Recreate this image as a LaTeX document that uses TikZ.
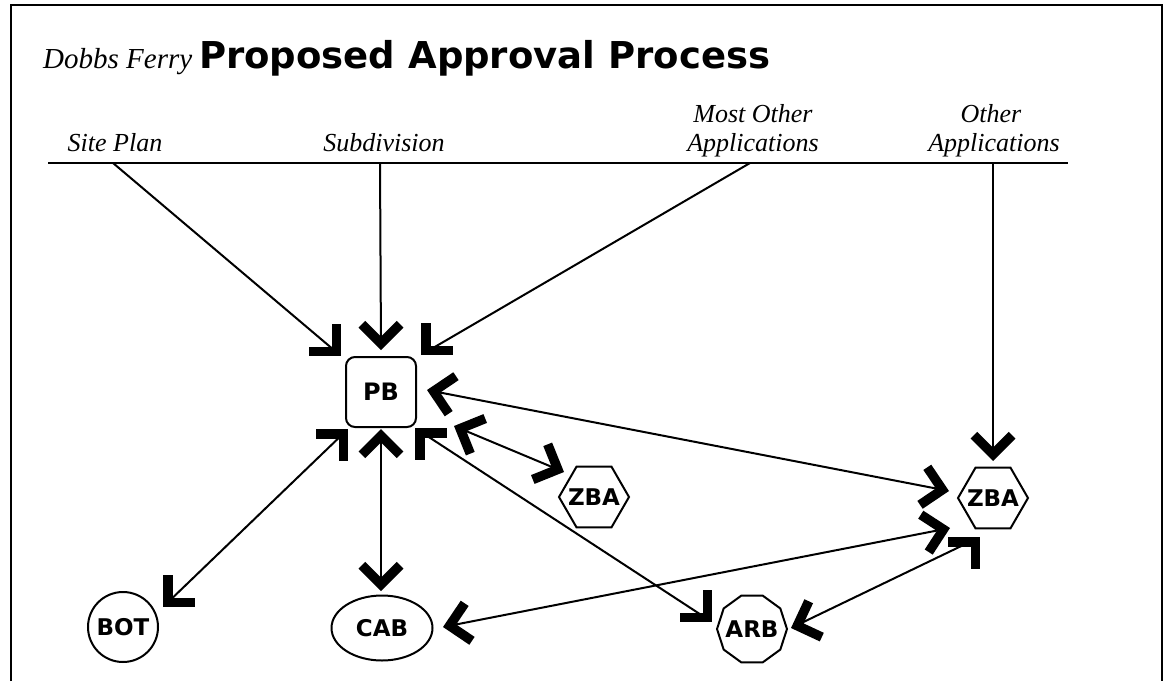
\documentclass[tikz,border=0pt]{standalone}
\usepackage{fontspec}
\setmainfont{Liberation Serif}
\newfontfamily\heavy{DejaVu Sans}
\usetikzlibrary{shapes.geometric}
\begin{document}
\begin{tikzpicture}[x=1pt,y=-1pt,
  conn/.style={line width=2pt, shorten <=3pt, shorten >=3pt},
  rule/.style={line width=2pt},
  chevline/.style={line width=9.5pt, line join=miter, line cap=butt},
  pics/chev/.style={code={\draw[chevline, shift={(#1+180:6.72)}] (#1+135:27) -- (0,0) -- (#1-135:27);}},
  boxline/.style={draw, line width=2pt, line join=miter},
  box/.style={boxline, inner sep=0pt, outer sep=0pt, text height=17pt, text depth=0pt, font=\heavy\bfseries\fontsize{24}{24}\selectfont},
  txt/.style={inner sep=0pt, outer sep=0pt, text height=16pt, text depth=0pt, font=\heavy\bfseries\fontsize{23}{23}\selectfont},
  lab/.style={font=\itshape\fontsize{26}{26}\selectfont, anchor=base, inner sep=0pt}
]
\useasboundingbox (0,0) rectangle (1165,681);
% frame
\draw[rule, line width=2.4pt] (11,681) -- (11,5) -- (1162,5) -- (1162,681);
% title
\node[anchor=base west, inner sep=0pt] (t1) at (43,68) {\fontsize{29}{29}\selectfont\itshape Dobbs Ferry};
\node[anchor=base west, inner sep=0pt] (t2) at (199,68) {\heavy\bfseries\fontsize{37}{37}\selectfont Proposed Approval Process};
% labels
\node[lab] (lsp) at (115,151) {Site Plan};
\node[lab] (lsub) at (384,151) {Subdivision};
\node[lab] (lmo1) at (753,122) {Most Other};
\node[lab] (lmo2) at (753,151) {Applications};
\node[lab] (lo1) at (991,122) {Other};
\node[lab] (lo2) at (994,151) {Applications};
\draw[rule] (48,163) -- (1068,163);
\coordinate (ssp) at (113,163);
\coordinate (ssub) at (380,163);
\coordinate (smo) at (750,163);
\coordinate (so) at (993,163);
% nodes
\node[box, rectangle, rounded corners=9pt, minimum width=70pt, minimum height=70pt] (pb) at (381,392) {PB};
\node[txt] (zbam) at (594,497) {ZBA};
\draw[boxline, shift={(zbam.center)}] (0:35) -- (60:35) -- (120:35) -- (180:35) -- (240:35) -- (300:35) -- cycle;
\node[txt] (zbar) at (993,498) {ZBA};
\draw[boxline, shift={(zbar.center)}] (0:35) -- (60:35) -- (120:35) -- (180:35) -- (240:35) -- (300:35) -- cycle;
\node[box, txt, draw, circle, minimum size=70pt] (bot) at (123,627) {BOT};
\node[box, txt, draw, ellipse, minimum width=101pt, minimum height=65pt] (cab) at (382,628) {CAB};
\node[txt] (arb) at (752,629) {ARB};
\draw[boxline, shift={(arb.center)}] (0:35) -- (36:35) -- (72:35) -- (108:35) -- (144:35) -- (180:35) -- (216:35) -- (252:35) -- (288:35) -- (324:35) -- cycle;
% arrow tip points
\coordinate (pbTL) at (341,356);
\coordinate (pbT) at (381,350);
\coordinate (pbTR) at (421,355);
\coordinate (zbarT) at (993,461);
\coordinate (pbR) at (427,390);
\coordinate (zbarL) at (949,491);
\coordinate (pbRL) at (454,426);
\coordinate (zbamL) at (564,472);
\coordinate (pbBL) at (348,429);
\coordinate (botTR) at (163,607);
\coordinate (pbB) at (381,429);
\coordinate (cabT) at (381,591);
\coordinate (pbBR) at (415,428);
\coordinate (arbL) at (712,622);
\coordinate (cabR) at (443,627);
\coordinate (zbarBL) at (950,528);
\coordinate (arbR) at (791,628);
\coordinate (zbarB) at (980,537);
% connectors
\draw[conn, shorten <=0pt] (ssp) -- (pbTL);
\draw[conn, shorten <=0pt] (ssub) -- (pbT);
\draw[conn, shorten <=0pt] (smo) -- (pbTR);
\draw[conn, shorten <=0pt] (so) -- (zbarT);
\draw[conn] (pbR) -- (zbarL);
\draw[conn] (pbRL) -- (zbamL);
\draw[conn] (pbBL) -- (botTR);
\draw[conn] (pbB) -- (cabT);
\draw[conn] (pbBR) -- (arbL);
\draw[conn] (cabR) -- (zbarBL);
\draw[conn] (arbR) -- (zbarB);
% arrowheads
\pic at (pbTL) {chev=45};
\pic at (pbT) {chev=90};
\pic at (pbTR) {chev=135};
\pic at (zbarT) {chev=90};
\pic at (pbR) {chev=191};
\pic at (zbarL) {chev=11};
\pic at (pbRL) {chev=203};
\pic at (zbamL) {chev=23};
\pic at (pbBL) {chev=-45};
\pic at (botTR) {chev=135};
\pic at (pbB) {chev=-90};
\pic at (cabT) {chev=90};
\pic at (pbBR) {chev=225};
\pic at (arbL) {chev=45};
\pic at (cabR) {chev=169};
\pic at (zbarBL) {chev=-12};
\pic at (arbR) {chev=160};
\pic at (zbarB) {chev=-45};
\end{tikzpicture}
\end{document}
